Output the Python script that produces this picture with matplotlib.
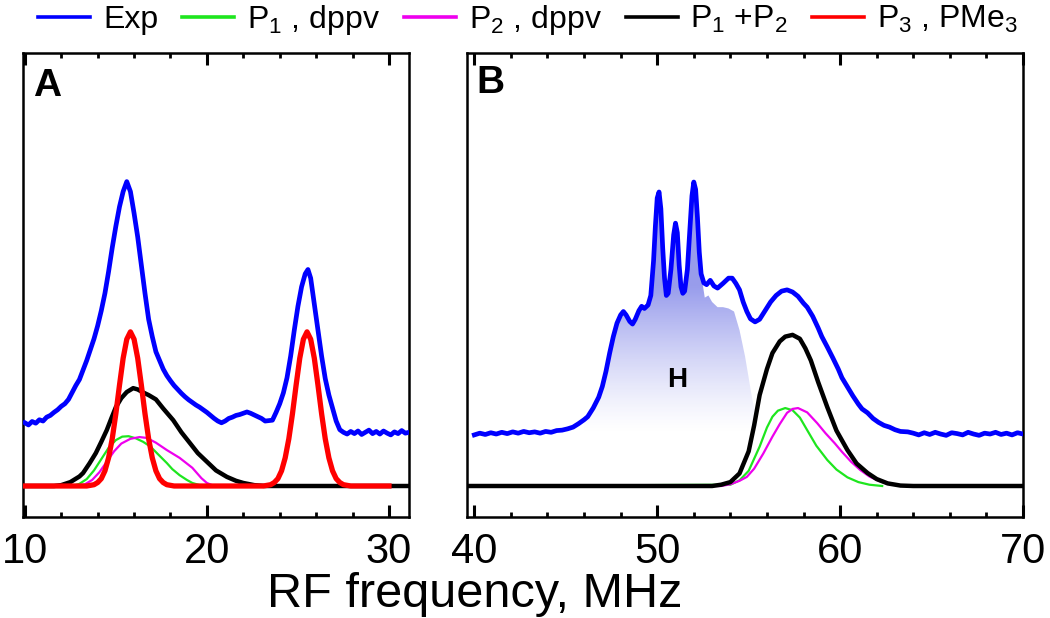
import numpy as np
import matplotlib
matplotlib.use("Agg")
import matplotlib.pyplot as plt
from matplotlib.patches import Polygon
from matplotlib.ticker import MultipleLocator

plt.rcParams["font.family"] = ["Liberation Sans", "DejaVu Sans"]
plt.rcParams["mathtext.fontset"] = "custom"
plt.rcParams["mathtext.rm"] = "Liberation Sans"
plt.rcParams["mathtext.it"] = "Liberation Sans:italic"
plt.rcParams["mathtext.bf"] = "Liberation Sans:bold"

exp_a_mhz = [10.0, 10.2, 10.4, 10.6, 10.8, 11.0, 11.2, 11.4, 11.6, 11.8,
             12.0, 12.2, 12.4, 12.6, 12.8, 13.0, 13.2, 13.4, 13.6, 13.8,
             14.0, 14.2, 14.4, 14.6, 14.8, 15.0, 15.2, 15.4, 15.6, 15.8,
             16.0, 16.2, 16.4, 16.6, 16.8, 17.0, 17.2, 17.4, 17.6, 17.8,
             18.0, 18.2, 18.4, 18.6, 18.8, 19.0, 19.2, 19.4, 19.6, 19.8,
             20.0, 20.2, 20.4, 20.6, 20.8, 21.0, 21.2, 21.4, 21.6, 21.8,
             22.0, 22.2, 22.4, 22.6, 22.8, 23.0, 23.2, 23.4, 23.6, 23.8,
             24.0, 24.2, 24.4, 24.6, 24.8, 25.0, 25.2, 25.4, 25.55, 25.7,
             25.9, 26.1, 26.3, 26.5, 26.7, 26.9, 27.1, 27.3, 27.5, 27.7,
             27.9, 28.1, 28.3, 28.5, 28.7, 28.9, 29.1, 29.3, 29.5, 29.7,
             29.9, 30.1, 30.3, 30.5, 30.7, 30.9, 31.1]
exp_a_amp = [14.6, 14.1, 14.9, 14.5, 15.3, 15.0, 15.9, 16.3, 17.0, 17.6,
             18.4, 19.0, 20.0, 21.6, 23.2, 24.6, 26.8, 29.0, 31.5, 34.0,
             37.0, 40.5, 44.5, 49.5, 55.0, 60.0, 64.5, 68.0, 70.3, 68.0,
             63.0, 57.5, 51.0, 44.5, 38.5, 34.5, 31.0, 29.0, 27.0, 25.5,
             24.3, 23.2, 22.3, 21.4, 20.6, 19.9, 19.3, 18.7, 18.2, 17.6,
             17.0, 16.3, 15.6, 15.0, 14.6, 15.0, 15.6, 15.9, 16.3, 16.5,
             16.8, 17.1, 16.8, 16.4, 16.0, 15.6, 15.0, 15.1, 15.2, 17.0,
             19.0, 21.5, 25.0, 30.0, 36.0, 41.5, 46.0, 49.0, 50.0, 48.0,
             42.0, 36.0, 30.0, 24.8, 21.0, 18.0, 15.0, 13.0, 12.4, 12.0,
             12.6, 12.1, 12.7, 11.9, 12.4, 12.9, 12.1, 12.6, 12.0, 12.7,
             12.2, 11.8, 12.5, 12.1, 12.8, 12.2, 12.4]

# ---- panel A : simulated components ----
p1_a_mhz = [9.9, 12.6, 13.0, 13.4, 13.8, 14.2, 14.6, 15.0, 15.35, 15.7,
            16.1, 16.5, 16.9, 17.3, 17.8, 18.1, 18.5, 18.9, 19.2, 19.6, 20.0]
p1_a_amp = [0.0, 0.0, 0.5, 1.6, 3.6, 6.2, 8.8, 10.6, 11.4, 11.5,
            11.0, 10.2, 9.1, 7.4, 5.3, 3.9, 2.5, 1.4, 0.7, 0.2, 0.0]

p2_a_mhz = [9.9, 12.8, 13.3, 13.7, 14.1, 14.5, 14.9, 15.3, 15.8, 16.3,
            16.7, 17.2, 17.8, 18.5, 19.2, 19.7, 20.0, 20.4]
p2_a_amp = [0.0, 0.0, 0.4, 1.4, 3.2, 5.6, 8.0, 9.8, 10.9, 11.3,
            11.1, 10.0, 8.3, 6.5, 4.2, 1.8, 0.7, 0.0]

sum_a_mhz = [9.9, 11.6, 12.0, 12.5, 13.0, 13.2, 13.55, 13.9, 14.2, 14.5,
             14.75, 15.0, 15.3, 15.6, 15.95, 16.2, 16.5, 16.8, 17.2, 17.6,
             18.15, 18.6, 19.07, 19.5, 20.0, 20.5, 21.1, 21.6, 22.0, 22.6,
             23.2, 31.1]
sum_a_amp = [0.0, 0.0, 0.2, 0.9, 2.2, 3.0, 5.2, 7.6, 10.2, 12.9,
             15.6, 18.2, 20.3, 21.7, 22.6, 22.3, 21.6, 21.0, 20.0, 17.9,
             15.2, 12.4, 9.9, 7.6, 5.6, 3.6, 2.1, 1.2, 0.7, 0.2,
             0.0, 0.0]

p3_a_mhz = [9.9, 13.4, 13.8, 14.0, 14.2, 14.4, 14.6, 14.8, 15.0, 15.2,
            15.4, 15.6, 15.8, 16.0, 16.2, 16.4, 16.6, 16.8, 17.0, 17.2,
            17.4, 17.6, 17.8, 18.2, 23.1, 23.5, 23.7, 23.9, 24.1, 24.3,
            24.5, 24.7, 24.9, 25.1, 25.3, 25.5, 25.7, 25.9, 26.1, 26.3,
            26.5, 26.7, 26.9, 27.1, 27.3, 27.5, 27.9, 30.0]
p3_a_amp = [0.0, 0.0, 0.3, 0.8, 1.7, 3.5, 6.5, 10.9, 16.7, 23.3,
            29.5, 33.9, 35.6, 33.9, 29.5, 23.3, 16.7, 10.9, 6.5, 3.5,
            1.7, 0.8, 0.3, 0.0, 0.0, 0.3, 0.8, 1.7, 3.5, 6.5,
            10.9, 16.7, 23.3, 29.5, 33.9, 35.6, 33.9, 29.5, 23.3, 16.7,
            10.9, 6.5, 3.5, 1.7, 0.8, 0.3, 0.0, 0.0]

# ---- panel B : experiment ----
exp_b_mhz = [40.0, 40.3, 40.6, 40.9, 41.2, 41.5, 41.8, 42.1, 42.4, 42.7,
             43.0, 43.3, 43.6, 43.9, 44.2, 44.5, 44.8, 45.1, 45.4, 45.7,
             46.0, 46.2, 46.5, 46.8, 47.0, 47.2, 47.4, 47.6, 47.8, 48.0,
             48.15, 48.3, 48.5, 48.65, 48.8, 49.0, 49.15, 49.3, 49.5, 49.65,
             49.8, 49.9, 50.0, 50.1, 50.2, 50.3, 50.4, 50.5, 50.6, 50.75,
             50.9, 51.0, 51.1, 51.2, 51.3, 51.4, 51.5, 51.65, 51.8, 51.9,
             52.0, 52.1, 52.2, 52.3, 52.4, 52.55, 52.7, 52.9, 53.1, 53.3,
             53.6, 53.9, 54.1, 54.3, 54.5, 54.7, 54.9, 55.1, 55.35, 55.6,
             55.9, 56.2, 56.5, 56.8, 57.1, 57.4, 57.7, 58.0, 58.2, 58.5,
             58.8, 59.0, 59.3, 59.6, 59.9, 60.1, 60.4, 60.7, 61.0, 61.2,
             61.5, 61.8, 62.1, 62.4, 62.7, 63.0, 63.3, 63.7, 64.0, 64.3,
             64.6, 64.9, 65.2, 65.5, 65.8, 66.1, 66.4, 66.7, 67.0, 67.3,
             67.6, 67.9, 68.2, 68.5, 68.8, 69.1, 69.4, 69.7, 70.0]
exp_b_amp = [11.8, 12.2, 11.9, 12.3, 12.0, 12.4, 12.1, 12.5, 12.2, 12.6,
             12.3, 12.5, 12.2, 12.6, 12.4, 12.8, 12.9, 13.2, 13.6, 14.4,
             15.3, 16.0, 18.0, 20.5, 23.0, 26.5, 30.7, 34.5, 37.6, 39.5,
             40.3, 39.5, 38.0, 37.4, 38.5, 40.5, 41.5, 41.0, 41.8, 44.0,
             52.0, 60.0, 66.5, 67.9, 64.0, 55.0, 48.0, 44.0, 44.5, 50.0,
             58.0, 60.7, 58.5, 51.0, 46.0, 44.5, 45.0, 50.0, 60.0, 67.0,
             70.2, 68.5, 62.0, 54.0, 49.0, 46.9, 46.5, 47.5, 46.2, 45.7,
             46.8, 48.0, 48.0, 46.8, 45.3, 42.5, 40.3, 38.6, 37.9, 38.5,
             40.5, 42.5, 44.0, 45.0, 45.3, 44.8, 43.8, 42.2, 41.3, 39.2,
             36.5, 34.5, 32.1, 29.6, 27.0, 25.0, 22.9, 20.8, 18.9, 17.8,
             16.9, 15.6, 14.7, 14.0, 13.6, 13.0, 12.6, 12.5, 12.2, 11.8,
             12.3, 11.9, 12.4, 12.0, 11.7, 12.3, 12.1, 11.8, 12.4, 12.0,
             11.7, 12.2, 12.0, 12.4, 11.9, 12.2, 11.8, 12.3, 12.0]

# ---- panel B : simulated components ----
p1_b_mhz = [39.6, 54.0, 54.5, 55.0, 55.6, 56.0, 56.3, 56.6, 57.0, 57.4,
            57.8, 58.2, 58.7, 59.3, 59.8, 60.4, 61.0, 61.6, 62.3]
p1_b_amp = [0.0, 0.3, 1.3, 3.5, 9.1, 13.5, 16.0, 17.4, 18.0, 17.5,
            15.8, 12.9, 9.3, 6.0, 3.8, 2.0, 0.9, 0.3, 0.0]

p2_b_mhz = [39.6, 53.5, 54.0, 54.5, 54.9, 55.3, 55.8, 56.3, 56.7, 57.1,
            57.4, 57.7, 58.2, 58.75, 59.2, 59.7, 60.1, 60.6, 61.1, 61.6,
            62.1, 62.6, 63.2, 63.8]
p2_b_amp = [0.0, 0.0, 0.4, 1.2, 2.1, 4.0, 7.5, 11.4, 14.3, 16.9,
            17.8, 18.0, 17.0, 14.5, 12.2, 9.9, 7.9, 5.6, 3.7, 2.2,
            1.2, 0.5, 0.1, 0.0]

sum_b_mhz = [39.6, 53.0, 53.5, 54.0, 54.5, 55.0, 55.3, 55.6, 56.0, 56.3,
             56.7, 57.0, 57.4, 57.8, 58.1, 58.4, 58.8, 59.3, 59.8, 60.4,
             60.9, 61.5, 62.0, 62.6, 63.3, 64.0, 70.0]
sum_b_amp = [0.0, 0.0, 0.3, 0.9, 2.9, 8.0, 14.0, 21.0, 27.0, 30.7,
             33.4, 34.5, 34.9, 34.0, 31.8, 29.0, 24.0, 18.2, 12.8, 8.3,
             5.2, 3.0, 1.6, 0.6, 0.1, 0.0, 0.0]

# shaded "H" region: left part follows Exp, right shoulder read separately
h_start, h_end = 46.0, 52.45
h_shoulder_mhz = [52.6, 52.8, 53.0, 53.3, 53.6, 53.9, 54.2, 54.5, 54.8, 55.0,
                  55.2, 55.4, 55.6, 55.8]
h_shoulder_amp = [43.5, 44.0, 42.5, 41.3, 41.3, 41.0, 40.3, 36.0, 30.0, 25.0,
                  20.0, 16.0, 13.0, 12.0]
h_floor = 12.0

legend_labels = ["Exp", "P$_1$ , dppv", "P$_2$ , dppv", "P$_1$ +P$_2$", "P$_3$ , PMe$_3$"]

c_exp, c_p1, c_p2, c_sum, c_p3 = "#0000ff", "#1ee61e", "#ee00ee", "black", "#ff0000"

fig = plt.figure(figsize=(10.5, 6.18), dpi=100)
ax_a = fig.add_axes([23 / 1050, 101 / 618, 386 / 1050, 464 / 618])
ax_b = fig.add_axes([467 / 1050, 101 / 618, 556 / 1050, 464 / 618])

# panel A
l_exp, = ax_a.plot(exp_a_mhz, exp_a_amp, color=c_exp, lw=3.4, zorder=3)
l_sum, = ax_a.plot(sum_a_mhz, sum_a_amp, color=c_sum, lw=3.2, zorder=4)
l_p1, = ax_a.plot(p1_a_mhz, p1_a_amp, color=c_p1, lw=1.6, zorder=5)
l_p2, = ax_a.plot(p2_a_mhz, p2_a_amp, color=c_p2, lw=1.6, zorder=5)
l_p3, = ax_a.plot(p3_a_mhz, p3_a_amp, color=c_p3, lw=3.8, zorder=6)

# panel B
ax_b.plot(exp_b_mhz, exp_b_amp, color=c_exp, lw=3.4, zorder=3)
ax_b.plot(p1_b_mhz, p1_b_amp, color=c_p1, lw=1.6, zorder=4)
ax_b.plot(p2_b_mhz, p2_b_amp, color=c_p2, lw=1.6, zorder=4)
ax_b.plot(sum_b_mhz, sum_b_amp, color=c_sum, lw=3.2, zorder=5)

# gradient fill of the H region (fades to white towards the baseline)
xb = np.array(exp_b_mhz)
yb = np.array(exp_b_amp)
sel = (xb >= h_start) & (xb <= h_end)
poly_x = np.concatenate([[h_start], xb[sel], h_shoulder_mhz, [h_shoulder_mhz[-1]]])
poly_y = np.concatenate([[h_floor], yb[sel], h_shoulder_amp, [h_floor]])
patch = Polygon(np.column_stack([poly_x, poly_y]), closed=True,
                facecolor="none", edgecolor="none")
ax_b.add_patch(patch)
g_top = 72.0
levels = np.linspace(h_floor, g_top, 256)
grad = np.zeros((256, 1, 4))
grad[..., 0], grad[..., 1], grad[..., 2] = 0.35, 0.38, 0.88
grad[:, 0, 3] = np.clip((levels - h_floor) / (46.0 - h_floor), 0, 1) ** 1.3 * 0.62
im = ax_b.imshow(grad, extent=[h_start, 56.0, h_floor, g_top], origin="lower",
                 aspect="auto", interpolation="bilinear", zorder=1)
im.set_clip_path(patch)
ax_b.text(51.08, 22.9, "H", fontsize=20, fontweight="bold", ha="center", va="baseline", zorder=6)

for ax, xlim in ((ax_a, (9.9, 31.1)), (ax_b, (39.6, 70.0))):
    ax.set_xlim(*xlim)
    ax.set_ylim(-7.16, 100)
    ax.set_yticks([])
    ax.xaxis.set_major_locator(MultipleLocator(10))
    ax.xaxis.set_minor_locator(MultipleLocator(2))
    ax.tick_params(axis="x", which="both", direction="in", top=True, labelsize=30, pad=11)
    ax.tick_params(axis="x", which="major", length=8.6, width=2.2)
    ax.tick_params(axis="x", which="minor", length=3.6, width=2.0)
    for s in ax.spines.values():
        s.set_linewidth(1.8)

ax_a.text(0.026, 0.907, "A", transform=ax_a.transAxes, fontsize=28, fontweight="bold", va="baseline")
ax_b.text(0.016, 0.914, "B", transform=ax_b.transAxes, fontsize=28, fontweight="bold", va="baseline")

fig.text(475 / 1050, 11 / 618, "RF frequency, MHz", fontsize=35, ha="center", va="baseline")

leg = fig.legend([l_exp, l_p1, l_p2, l_sum, l_p3], legend_labels, loc="upper center",
                 bbox_to_anchor=(0.503, 1.0), ncol=5, frameon=False, fontsize=23,
                 handlelength=1.63, handletextpad=0.4, columnspacing=0.75,
                 borderaxespad=0.0, borderpad=0.1)
for h in leg.get_lines():
    h.set_linewidth(2.6)

fig.savefig("out.png", dpi=100)
